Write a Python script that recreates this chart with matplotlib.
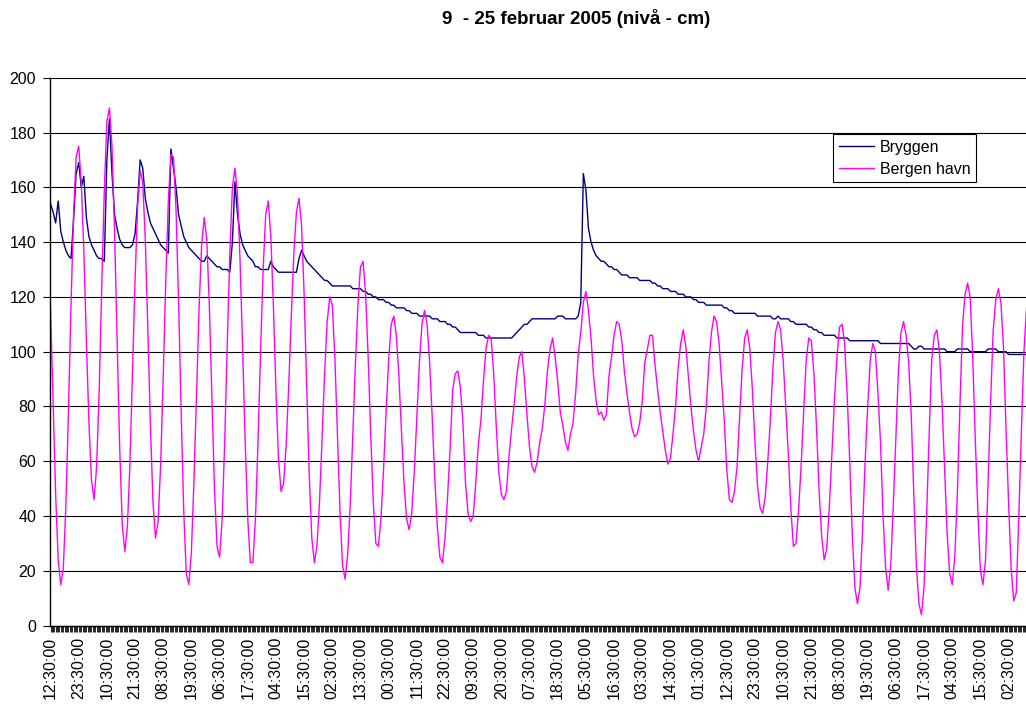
import matplotlib
matplotlib.use('Agg')
import matplotlib.pyplot as plt
import pandas as pd
from matplotlib.ticker import MultipleLocator

# vannstand, en verdi per time fra 9. feb 12:30
bryggen = [
    154, 151, 147, 155, 144, 140, 137, 135, 134, 148,
    165, 169, 160, 164, 149, 142, 139, 137, 135, 134,
    134, 133, 170, 185, 165, 150, 145, 141, 139, 138,
    138, 138, 139, 143, 155, 170, 167, 156, 151, 147,
    145, 143, 141, 139, 138, 137, 136, 174, 167, 160,
    150, 146, 142, 140, 138, 137, 136, 135, 134, 133,
    133, 135, 134, 133, 132, 131, 131, 130, 130, 130,
    129, 140, 162, 150, 143, 139, 137, 135, 134, 133,
    131, 131, 130, 130, 130, 130, 133, 131, 130, 129,
    129, 129, 129, 129, 129, 129, 129, 134, 137, 135,
    133, 132, 131, 130, 129, 128, 127, 126, 126, 125,
    124, 124, 124, 124, 124, 124, 124, 124, 123, 123,
    123, 123, 122, 122, 121, 121, 120, 120, 119, 119,
    119, 118, 118, 117, 117, 116, 116, 116, 116, 115,
    115, 114, 114, 114, 113, 113, 113, 113, 113, 112,
    112, 112, 111, 111, 111, 110, 110, 109, 109, 108,
    107, 107, 107, 107, 107, 107, 107, 106, 106, 106,
    105, 105, 105, 105, 105, 105, 105, 105, 105, 105,
    105, 106, 107, 108, 109, 110, 110, 111, 112, 112,
    112, 112, 112, 112, 112, 112, 112, 112, 113, 113,
    113, 112, 112, 112, 112, 112, 113, 118, 165, 159,
    145, 140, 137, 135, 134, 133, 133, 132, 131, 131,
    130, 130, 129, 128, 128, 128, 127, 127, 127, 127,
    126, 126, 126, 126, 126, 125, 125, 124, 124, 123,
    123, 123, 122, 122, 122, 121, 121, 121, 120, 120,
    120, 119, 119, 118, 118, 118, 117, 117, 117, 117,
    117, 117, 117, 116, 116, 115, 115, 114, 114, 114,
    114, 114, 114, 114, 114, 114, 113, 113, 113, 113,
    113, 113, 112, 112, 113, 112, 112, 112, 112, 111,
    111, 110, 110, 110, 110, 110, 109, 109, 108, 108,
    107, 107, 106, 106, 106, 106, 106, 105, 105, 105,
    105, 105, 104, 104, 104, 104, 104, 104, 104, 104,
    104, 104, 104, 104, 103, 103, 103, 103, 103, 103,
    103, 103, 103, 103, 103, 103, 102, 101, 101, 102,
    102, 101, 101, 101, 101, 101, 101, 101, 101, 101,
    100, 100, 100, 100, 101, 101, 101, 101, 101, 100,
    100, 100, 100, 100, 100, 100, 101, 101, 101, 101,
    100, 100, 100, 100, 99, 99, 99, 99, 99, 99,
    99, 99,
]

bergen_havn = [
    116, 82, 48, 24, 15, 21, 44, 78, 117, 150,
    171, 175, 162, 137, 104, 74, 53, 46, 58, 86,
    124, 159, 184, 189, 175, 144, 104, 65, 37, 27,
    36, 59, 92, 126, 153, 166, 162, 141, 108, 73,
    45, 32, 38, 59, 91, 126, 155, 172, 171, 152,
    118, 78, 42, 19, 15, 27, 53, 85, 116, 139,
    149, 141, 117, 83, 50, 29, 25, 39, 67, 103,
    136, 160, 167, 157, 133, 101, 67, 39, 23, 23,
    39, 67, 100, 130, 150, 155, 142, 117, 86, 61,
    49, 52, 66, 88, 113, 136, 151, 156, 146, 121,
    88, 55, 32, 23, 29, 45, 68, 92, 111, 120,
    117, 98, 70, 42, 22, 17, 26, 44, 69, 95,
    117, 131, 133, 121, 98, 70, 45, 30, 29, 39,
    57, 78, 97, 110, 113, 106, 91, 71, 52, 39,
    35, 41, 56, 76, 96, 110, 115, 110, 96, 76,
    54, 36, 25, 23, 32, 47, 65, 86, 92, 93,
    87, 74, 52, 41, 38, 40, 52, 66, 75, 89,
    101, 106, 105, 92, 73, 56, 48, 46, 49, 62,
    72, 81, 91, 98, 100, 90, 77, 65, 58, 56,
    60, 67, 72, 81, 93, 101, 105, 98, 89, 78,
    73, 67, 64, 70, 74, 85, 99, 107, 118, 122,
    115, 105, 91, 82, 77, 78, 75, 77, 91, 98,
    106, 111, 110, 104, 93, 85, 78, 72, 69, 70,
    74, 82, 96, 101, 106, 106, 95, 86, 78, 71,
    64, 59, 61, 70, 80, 94, 103, 108, 102, 91,
    80, 71, 64, 60, 65, 70, 80, 96, 107, 113,
    111, 103, 89, 75, 57, 46, 45, 49, 58, 76,
    94, 105, 108, 101, 86, 67, 51, 43, 41, 47,
    60, 75, 94, 107, 111, 108, 97, 80, 63, 43,
    29, 30, 42, 58, 78, 97, 105, 104, 92, 73,
    50, 33, 24, 28, 43, 62, 82, 98, 109, 110,
    103, 84, 60, 33, 14, 8, 14, 35, 60, 80,
    97, 103, 100, 85, 67, 40, 21, 13, 22, 44,
    68, 93, 107, 111, 106, 96, 77, 48, 22, 8,
    4, 14, 40, 70, 97, 106, 108, 100, 82, 58,
    34, 19, 15, 25, 48, 80, 109, 121, 125, 120,
    98, 68, 42, 20, 15, 24, 52, 82, 108, 119,
    123, 118, 102, 72, 45, 21, 9, 12, 40, 71,
    100, 116,
]

start = '2005-02-09 12:30'
label_step = 11
tittel = '9  - 25 februar 2005 (nivå - cm)'

tider = pd.date_range(start, periods=len(bergen_havn), freq='h')
x = list(range(len(bergen_havn)))

plt.rcParams['font.family'] = ['Liberation Sans', 'DejaVu Sans']

fig = plt.figure(figsize=(10.26, 7.09), dpi=100)
ax = fig.add_axes([50 / 1026, 0.1175, 976 / 1026, 0.7729])

ax.plot(x, bryggen, color='#000080', lw=1.0, label='Bryggen')
ax.plot(x, bergen_havn, color='#FF00FF', lw=1.0, label='Bergen havn')

ax.set_xlim(-0.2, 380.8)
ax.set_ylim(0, 200)
ax.set_yticks(range(0, 201, 20))
ax.yaxis.grid(True, color='black', lw=0.8)
ax.set_axisbelow(True)

pos = x[::label_step]
ax.set_xticks(pos)
ax.set_xticklabels([t.strftime('%H:%M:%S') for t in tider[::label_step]], rotation=90)
ax.xaxis.set_minor_locator(MultipleLocator(0.5))
ax.tick_params(axis='x', which='both', length=4, width=0.6, direction='out', labelsize=11.5, pad=4)
ax.tick_params(axis='y', length=5, width=0.8, labelsize=11.5, pad=5)

for s in ['top', 'right']:
    ax.spines[s].set_visible(False)
for s in ['left', 'bottom']:
    ax.spines[s].set_color('black')
    ax.spines[s].set_linewidth(1.0)

fig.text(576 / 1026, 1 - 19 / 709, tittel, ha='center', va='center',
         fontsize=13.5, fontweight='bold')

leg = ax.legend(loc='upper left', bbox_to_anchor=(833 / 1026, 1 - 134 / 709),
                bbox_transform=fig.transFigure, borderaxespad=0, frameon=True,
                fancybox=False, edgecolor='black', framealpha=1, fontsize=11.5,
                handlelength=2.2, handletextpad=0.4, borderpad=0.35, labelspacing=0.45)
leg.get_frame().set_linewidth(0.8)

fig.savefig('out.png', dpi=100)
